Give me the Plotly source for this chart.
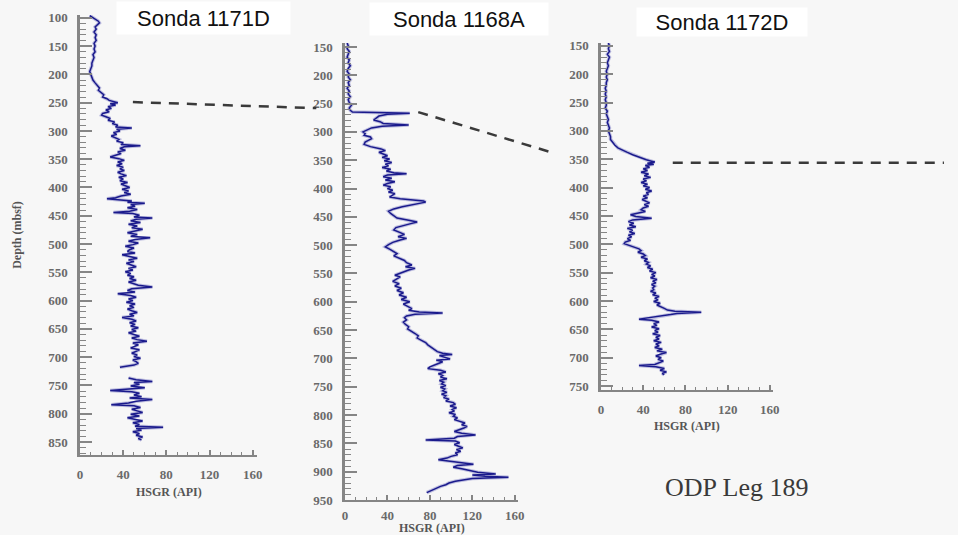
import plotly.graph_objects as go

# ---------------- DATA ----------------
wells = ["1171D", "1168A", "1172D"]
titles = ["Sonda 1171D", "Sonda 1168A", "Sonda 1172D"]
x_title = "HSGR (API)"
y_title = "Depth (mbsf)"

depth_1171D = [96, 100, 103, 106, 109, 112, 116, 120, 125, 130, 135, 140, 145, 150, 155, 160, 165, 170, 175, 180,
               185, 190, 195, 200, 205, 210, 215, 220, 224, 228, 232, 236, 240, 243, 246,
               248, 250, 252, 254, 257, 260, 263, 266, 269, 272, 275, 278, 281, 284, 287, 290, 293, 295, 297, 300,
               303, 306, 309, 312, 315, 318, 321, 324, 326, 328, 331, 334, 337, 340, 343, 346, 349, 352, 355, 358,
               361, 364, 367, 370, 373, 376, 379, 382, 385, 388, 391, 394, 397, 400, 403, 406, 409, 412, 415, 418,
               420, 422, 424, 426, 428, 430, 433, 436, 439, 442, 444, 446, 449, 452, 454, 456, 459, 462, 465, 468, 471,
               474, 477, 480, 483, 486, 489, 492, 495, 498, 501, 504, 507, 510, 513, 516, 519, 522, 525, 528, 531,
               534, 537, 540, 543, 546, 549, 552, 555, 558, 561, 564, 567, 570, 573, 576, 579, 582, 585, 588, 591,
               594, 597, 600, 603, 606, 609, 612, 615, 618, 621, 624, 627, 630, 633, 636, 639, 642, 645, 648, 651,
               654, 657, 660, 663, 666, 669, 672, 675, 678, 681, 684, 687, 690, 693, 696, 699, 702, 705, 708, 711,
               714, 716, 718, None,
               737, 740, 743, 745, 748, 751, 754, 757, 759, 761, 764, 767, 770, 772, 775, 778, 781, 784, 786, 789,
               792, 795, 798, 801, 804, 807, 810, 813, 816, 819, 822, 824, 826, 829, 832, 835, 838, 841, 844, 846]
hsgr_1171D = [9, 12, 15, 17, 18, 16, 14, 15, 13, 15, 14, 15, 13, 14, 13, 14, 12, 13, 12, 11,
              11, 10, 9, 10, 11, 12, 14, 16, 18, 17, 20, 22, 21, 25, 27,
              30, 35, 28, 33, 26, 29, 24, 27, 21, 20, 24, 28, 26, 32, 30, 35, 33, 48, 34, 37,
              31, 34, 29, 33, 36, 34, 40, 38, 56, 41, 37, 42, 35, 38, 32, 28, 36, 41, 35, 39,
              34, 40, 37, 41, 35, 38, 43, 36, 40, 37, 44, 38, 42, 46, 39, 45, 41, 47, 38, 33,
              25, 36, 48, 44, 60, 47, 51, 44, 53, 46, 31, 49, 55, 50, 67, 52, 47, 56, 45, 53, 48,
              58, 50, 44, 53, 47, 65, 51, 45, 54, 49, 42, 50, 46, 44, 51, 39, 47, 53, 45, 50,
              43, 48, 52, 45, 49, 42, 47, 44, 50, 46, 52, 45, 49, 54, 67, 48, 44, 51, 35, 47,
              52, 45, 49, 43, 51, 46, 50, 44, 48, 53, 46, 50, 39, 48, 52, 46, 51, 47, 54, 48,
              52, 45, 50, 55, 48, 53, 62, 49, 54, 50, 47, 55, 51, 48, 53, 50, 56, 49, 52, 54,
              50, 42, 37, None,
              45, 52, 67, 50, 55, 47, 60, 43, 28, 48, 55, 50, 57, 46, 67, 52, 45, 29, 50, 56,
              48, 53, 58, 47, 55, 44, 52, 58, 49, 55, 51, 77, 52, 57, 49, 55, 52, 58, 54, 57]

depth_1168A = [143, 148, 153, 158, 163, 168, 173, 178, 183, 188, 193, 198, 203, 208, 213, 218, 223, 228, 233, 238,
               243, 248, 253, 258, 262, 265, 267, 269, 272, 275, 279, 282, 285, 288, 290, 293, 297, 300, 303, 306,
               309, 312, 315, 318, 322, 326, 330, 333, 336, 339, 342, 345, 348, 351, 354, 357, 360, 363, 366, 369,
               372, 374, 376, 379, 382, 385, 388, 391, 394, 397, 400, 403, 406, 409, 412, 415, 418, 420, 422, 424,
               426, 429, 432, 436, 440, 444, 448, 452, 456, 459, 462, 465, 469, 473, 477, 481, 485, 488, 491, 495,
               499, 503, 507, 511, 515, 519, 523, 527, 531, 535, 538, 541, 544, 547, 550, 553, 556, 560, 564, 568,
               572, 576, 580, 584, 588, 592, 596, 600, 604, 608, 612, 615, 618, 620, 622, 625, 628, 632, 636, 640,
               644, 648, 652, 656, 660, 664, 668, 672, 676, 680, 684, 688, 691, 693, 695, 698, 701, 703, 706, 709,
               712, 715, 718, 721, 724, 727, 730, 733, 736, 739, 742, 745, 748, 751, 754, 757, 760, 763, 766, 769,
               772, 775, 778, 781, 784, 787, 790, 793, 796, 799, 802, 805, 808, 811, 814, 817, 820, 823, 826, 829,
               832, 835, 838, 841, 844, 846, 849, 852, 855, 858, 861, 864, 867, 870, 873, 876, 879, 882, 885, 887,
               889, 892, 895, 898, 901, 904, 906, 908, 910, 912, 914, 917, 920, 923, 926, 929, 932, 935, 937]
hsgr_1168A = [2, 3, 2, 4, 3, 2, 4, 3, 5, 3, 2, 4, 3, 5, 3, 4, 2, 4, 3, 5,
              3, 4, 6, 4, 5, 7, 61, 40, 32, 30, 27, 33, 36, 60, 35, 25, 20, 17, 19, 18,
              24, 25, 22, 19, 18, 24, 34, 38, 32, 36, 40, 35, 42, 37, 44, 38, 41, 35, 43, 39,
              46, 58, 40, 36, 44, 38, 47, 40, 36, 43, 40, 45, 41, 47, 44, 42, 52, 66, 74, 76,
              70, 62, 54, 46, 41, 43, 46, 49, 60, 68, 62, 55, 48, 46, 52, 56, 50, 58, 52, 45,
              41, 38, 42, 45, 49, 46, 52, 56, 58, 63, 57, 66, 60, 55, 50, 47, 52, 48, 45, 51,
              47, 53, 49, 55, 51, 58, 53, 61, 55, 59, 63, 60, 70, 92, 66, 58, 56, 58, 55, 57,
              60, 59, 63, 66, 69, 68, 72, 76, 78, 81, 84, 87, 92, 101, 89, 95, 99, 86, 92, 88,
              84, 80, 78, 90, 95, 88, 92, 90, 96, 89, 93, 91, 95, 90, 94, 92, 96, 91, 95, 93,
              98, 95, 102, 104, 99, 105, 101, 103, 98, 104, 102, 106, 103, 109, 113, 110, 115, 112, 108, 103,
              110, 123, 106, 103, 76, 104, 108, 103, 107, 111, 105, 109, 104, 106, 100, 96, 88, 100, 110, 121,
              106, 102, 110, 118, 125, 142, 120, 132, 154, 120, 112, 104, 98, 95, 90, 86, 82, 79, 77]

depth_1172D = [145, 150, 155, 160, 165, 170, 175, 180, 185, 190, 195, 200, 205, 210, 215, 220, 225, 230, 235, 240,
               245, 250, 255, 260, 265, 270, 275, 280, 285, 290, 295, 300, 305, 310, 315, 320, 325, 330, 334, 338,
               342, 345, 348, 351, 353, 355, 357, 359, 361, 364, 367, 370, 373, 376, 379, 382, 385, 388, 391, 394,
               397, 400, 403, 406, 409, 412, 415, 418, 421, 424, 427, 430, 433, 436, 439, 442, 445, 448, 451, 454,
               457, 460, 463, 466, 469, 472, 475, 478, 481, 484, 487, 490, 493, 496, 499, 502, 505, 508, 511, 514,
               517, 520, 523, 526, 529, 532, 535, 538, 541, 544, 547, 550, 553, 556, 559, 562, 565, 568, 571, 574,
               577, 580, 583, 586, 589, 592, 595, 598, 601, 604, 607, 610, 613, 616, 618, 620, 622, 624, 626, 628,
               630, 632, 634, 637, 640, 643, 646, 649, 652, 655, 658, 661, 664, 667, 670, 673, 676, 679, 682, 685,
               688, 691, 694, 697, 700, 703, 706, 709, 712, 714, 716, 719, 722, 725, 728, 730]
hsgr_1172D = [7, 8, 7, 8, 6, 8, 7, 6, 7, 6, 5, 6, 5, 6, 5, 5, 4, 5, 4, 5,
              4, 5, 5, 4, 6, 5, 6, 7, 6, 7, 8, 7, 8, 9, 9, 11, 13, 16, 20, 25,
              30, 34, 38, 43, 47, 51, 44, 50, 42, 46, 40, 44, 38, 45, 41, 47, 40, 43, 38, 44,
              40, 46, 42, 48, 43, 45, 40, 44, 39, 43, 46, 41, 45, 40, 38, 42, 36, 28, 33, 48,
              30, 26, 31, 27, 33, 25, 30, 27, 32, 26, 29, 25, 28, 23, 22, 27, 31, 36, 38, 35,
              40, 42, 38, 44, 41, 45, 43, 47, 44, 49, 46, 52, 48, 51, 47, 53, 49, 52, 48, 51,
              49, 50, 47, 52, 49, 55, 51, 54, 50, 56, 53, 57, 60, 63, 70, 95, 72, 66, 58, 52,
              46, 36, 48, 55, 50, 53, 48, 55, 51, 54, 49, 56, 52, 55, 50, 57, 52, 55, 51, 58,
              53, 62, 56, 52, 57, 54, 59, 55, 51, 36, 52, 60, 56, 62, 58, 60]

depths = [depth_1171D, depth_1168A, depth_1172D]
hsgrs = [hsgr_1171D, hsgr_1168A, hsgr_1172D]

x_tick_values = [0, 40, 80, 120, 160]

# correlation horizon (dashed): start/end picks given as (well index, HSGR, depth)
horizon_start_well = [0, 1, 2]
horizon_start_hsgr = [49, 69, 68]
horizon_start_depth = [249, 265, 356]
horizon_end_well = [1, 2, 2]
horizon_end_hsgr = [-27, -45, 325]
horizon_end_depth = [258, 339, 356]

# ---------------- LAYOUT GEOMETRY (pixels) ----------------
W, H = 958, 535
x_px = [(80, 257), (345, 518), (601, 773)]
y_px = [(15, 455), (43, 500), (43, 390)]
x_ranges = [[0, 164], [0, 163], [0, 163]]
y_ranges = [[873, 95], [950, 143], [757, 145]]
x_label_standoff = [6, 2, 6]
x_title_shift = [-37, -28, -36]

def xdom(i):
    return [x_px[i][0] / W, x_px[i][1] / W]

def ydom(i):
    return [1 - y_px[i][1] / H, 1 - y_px[i][0] / H]

def to_paper(i, xv, dv):
    d0, d1 = xdom(i)
    r0, r1 = x_ranges[i]
    px = d0 + (xv - r0) / (r1 - r0) * (d1 - d0)
    e0, e1 = ydom(i)
    top, bot = y_ranges[i][1], y_ranges[i][0]
    py = e0 + (bot - dv) / (bot - top) * (e1 - e0)
    return px, py

fig = go.Figure()

line_color = "#1a1a8c"
halo_color = "rgba(70,70,175,0.32)"
for i in range(3):
    sfx = "" if i == 0 else str(i + 1)
    fig.add_trace(go.Scatter(x=hsgrs[i], y=depths[i], xaxis="x" + sfx, yaxis="y" + sfx,
                             mode="lines", line=dict(color=halo_color, width=3.5),
                             hoverinfo="skip", showlegend=False))
    fig.add_trace(go.Scatter(x=hsgrs[i], y=depths[i], xaxis="x" + sfx, yaxis="y" + sfx,
                             mode="lines", line=dict(color=line_color, width=1.5),
                             name=wells[i], showlegend=False))

tick_font = dict(family="Liberation Serif", size=13, color="#6a6a6a", weight="bold")
title_font = dict(family="Liberation Serif", size=12, color="#555555", weight="bold")
axis_col = "#858585"

layout = dict(width=W, height=H, autosize=False,
              margin=dict(l=0, r=0, t=0, b=0, autoexpand=False),
              paper_bgcolor="#f7f7f7", plot_bgcolor="rgba(0,0,0,0)",
              showlegend=False)

for i in range(3):
    sfx = "" if i == 0 else str(i + 1)
    layout["xaxis" + sfx] = dict(
        domain=xdom(i), range=x_ranges[i], anchor="y" + sfx, automargin=False,
        showgrid=False, zeroline=False, showline=True, linecolor=axis_col, linewidth=2,
        tickmode="array", tickvals=x_tick_values,
        ticks="inside", ticklen=5, tickwidth=1.5, tickcolor=axis_col,
        minor=dict(dtick=10, tick0=0, ticks="inside", ticklen=3, tickwidth=1.2, tickcolor=axis_col, showgrid=False),
        tickfont=tick_font, ticklabelstandoff=x_label_standoff[i],
    )
    layout["yaxis" + sfx] = dict(
        domain=ydom(i), range=y_ranges[i], anchor="x" + sfx, automargin=False,
        showgrid=False, zeroline=False, showline=True, linecolor=axis_col, linewidth=2.5,
        tick0=0, dtick=50,
        ticks="inside", ticklen=12, tickwidth=1.5, tickcolor=axis_col,
        minor=dict(dtick=10, tick0=0, ticks="inside", ticklen=6, tickwidth=1.2, tickcolor=axis_col, showgrid=False),
        tickfont=tick_font, ticklabelstandoff=7,
    )
layout["yaxis"]["title"] = dict(text=y_title, font=title_font, standoff=24)

fig.update_layout(**layout)

# x-axis titles placed just below each panel's tick labels
for i in range(3):
    fig.add_annotation(text=x_title, xref="paper", yref="paper",
                       x=sum(xdom(i)) / 2, y=ydom(i)[0], yshift=x_title_shift[i],
                       xanchor="center", yanchor="middle", showarrow=False, font=title_font)

# dashed correlation lines
for k in range(len(horizon_start_well)):
    x0, y0 = to_paper(horizon_start_well[k], horizon_start_hsgr[k], horizon_start_depth[k])
    x1, y1 = to_paper(horizon_end_well[k], horizon_end_hsgr[k], horizon_end_depth[k])
    fig.add_shape(type="line", xref="paper", yref="paper", x0=x0, y0=y0, x1=x1, y1=y1,
                  line=dict(color="#3a3a3a", width=2.5, dash="10px,8px"), layer="above")

# well titles in white boxes
title_centers = [(203, 18), (459, 19), (722, 22)]
box_sizes = [(173, 32), (178, 32), (170, 28)]
for i in range(3):
    cx, cy = title_centers[i]
    bw, bh = box_sizes[i]
    fig.add_annotation(text=titles[i], xref="paper", yref="paper",
                       x=cx / W, y=1 - cy / H, xanchor="center", yanchor="middle",
                       showarrow=False, bgcolor="white", width=bw, height=bh, borderpad=0,
                       font=dict(family="Liberation Sans", size=22, color="#111111"))

fig.add_annotation(text="ODP Leg 189", xref="paper", yref="paper",
                   x=736 / W, y=1 - 487 / H, xanchor="center", yanchor="middle",
                   showarrow=False,
                   font=dict(family="Liberation Serif", size=26, color="#3a3a3a"))

fig.write_html("out.html")
